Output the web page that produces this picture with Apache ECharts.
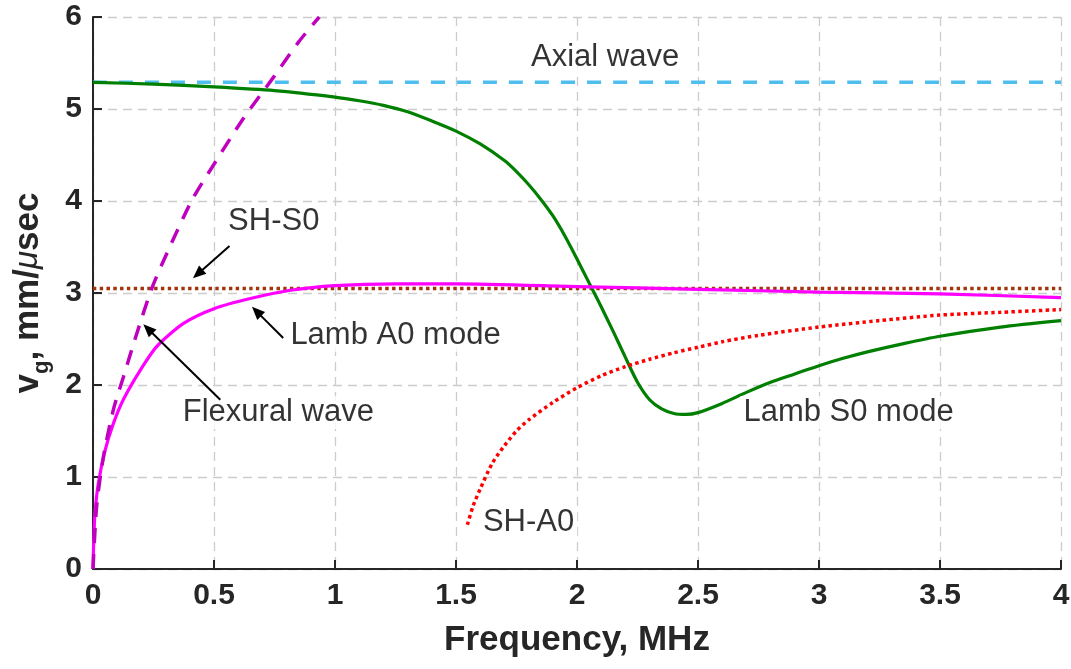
<!DOCTYPE html>
<html>
<head>
<meta charset="utf-8">
<script src="https://cdn.jsdelivr.net/npm/echarts@6/dist/echarts.min.js"></script>
<style>
html,body{margin:0;padding:0;background:#fff;}
#chart{width:1071px;height:669px;}
</style>
</head>
<body>
<div id="chart"></div>
<script>
// ---- data (frequency MHz, group velocity mm/µs) ----
const xTicks = [0, 0.5, 1, 1.5, 2, 2.5, 3, 3.5, 4];
const yTicks = [0, 1, 2, 3, 4, 5, 6];

const lambS0 = [[0,5.29],[0.25,5.27],[0.5,5.24],[0.75,5.20],[1.0,5.13],[1.1,5.09],[1.2,5.04],[1.3,4.97],[1.4,4.87],[1.5,4.76],[1.6,4.62],[1.7,4.44],[1.75,4.32],[1.8,4.18],[1.85,4.02],[1.9,3.84],[1.95,3.62],[2.0,3.37],[2.05,3.11],[2.1,2.85],[2.15,2.58],[2.2,2.30],[2.25,2.03],[2.3,1.84],[2.35,1.74],[2.4,1.69],[2.45,1.68],[2.5,1.70],[2.6,1.80],[2.7,1.92],[2.8,2.03],[2.9,2.12],[3.0,2.21],[3.1,2.29],[3.2,2.36],[3.35,2.45],[3.5,2.53],[3.75,2.63],[4.0,2.70]];

const lambA0 = [[0,0],[0.003,0.3],[0.008,0.6],[0.022,0.93],[0.05,1.29],[0.084,1.58],[0.125,1.84],[0.195,2.16],[0.264,2.42],[0.374,2.67],[0.5,2.83],[0.65,2.94],[0.816,3.03],[1.0,3.08],[1.25,3.10],[1.5,3.10],[2.0,3.07],[2.5,3.04],[3.0,3.01],[3.5,2.99],[4.0,2.95]];

const flexural = [[0,0],[0.015,0.68],[0.043,1.22],[0.084,1.73],[0.126,2.09],[0.181,2.56],[0.243,3.05],[0.305,3.43],[0.409,4.01],[0.5,4.40],[0.622,4.90],[0.75,5.36],[0.85,5.73],[0.935,6.0]];

const shA0 = [[1.547,0.48],[1.57,0.68],[1.6,0.87],[1.65,1.15],[1.7,1.34],[1.75,1.50],[1.8,1.62],[1.9,1.81],[2.0,1.97],[2.1,2.10],[2.2,2.20],[2.3,2.28],[2.4,2.35],[2.5,2.41],[2.6,2.47],[2.75,2.54],[3.0,2.63],[3.25,2.70],[3.5,2.76],[3.75,2.79],[4.0,2.82]];

const shS0 = [[0,3.05],[4,3.05]];
const axial = [[0,5.29],[4,5.29]];

// annotation texts [x, y, text]
const labels = [
  [2.116, 5.565, 'Axial wave'],
  [0.747, 3.78, 'SH-S0'],
  [1.25, 2.54, 'Lamb A0 mode'],
  [0.766, 1.70, 'Flexural wave'],
  [3.122, 1.70, 'Lamb S0 mode'],
  [1.80, 0.51, 'SH-A0']
];
// arrows [fromX, fromY, toX, toY]
const arrows = [
  [0.564, 3.51, 0.413, 3.16],
  [0.786, 2.51, 0.657, 2.85],
  [0.526, 1.84, 0.208, 2.66]
];

const FONT = '"Liberation Sans", Arial, Helvetica, sans-serif';
const AX = '#262626';

function lineSeries(name, data, color, width, type, z) {
  return {
    name, type: 'line', data, showSymbol: false, symbol: 'none',
    smooth: 0.25, silent: true, z: z,
    lineStyle: { color, width, type, cap: 'butt' }
  };
}

const chart = echarts.init(document.getElementById('chart'), null, { renderer: 'canvas' });
chart.setOption({
  animation: false,
  backgroundColor: '#fff',
  grid: { left: 93, right: 10, top: 17, bottom: 100, containLabel: false, outerBoundsMode: 'none' },
  xAxis: {
    type: 'value', min: 0, max: 4, interval: 0.5,
    name: 'Frequency, MHz', nameLocation: 'middle', nameGap: 54,
    nameTextStyle: { fontFamily: FONT, fontWeight: 'bold', fontSize: 35, color: AX },
    axisLine: { show: true, lineStyle: { color: AX, width: 2 } },
    axisTick: { show: true, inside: true, length: 9, lineStyle: { color: AX, width: 2 } },
    axisLabel: { fontFamily: FONT, fontWeight: 'bold', fontSize: 30, color: AX, margin: 12,
      formatter: v => xTicks.includes(v) ? String(v) : '' },
    splitLine: { show: true, lineStyle: { color: '#cccccc', width: 1.3, type: [9, 6] } }
  },
  yAxis: {
    type: 'value', min: 0, max: 6, interval: 1,
    name: '{m|v}{g|g}{m|, mm/}{mu|μ}{m|sec}', nameLocation: 'middle', nameGap: 40,
    nameTextStyle: {
      rich: {
        m: { fontFamily: FONT, fontWeight: 'bold', fontSize: 35, color: AX, verticalAlign: 'middle', lineHeight: 40 },
        g: { fontFamily: FONT, fontWeight: 'bold', fontSize: 22, color: AX, verticalAlign: 'bottom', lineHeight: 50 },
        mu: { fontFamily: FONT, fontStyle: 'italic', fontWeight: 'normal', fontSize: 33, color: AX, verticalAlign: 'middle', lineHeight: 40 }
      }
    },
    axisLine: { show: true, lineStyle: { color: AX, width: 2 } },
    axisTick: { show: true, inside: true, length: 9, lineStyle: { color: AX, width: 2 } },
    axisLabel: { fontFamily: FONT, fontWeight: 'bold', fontSize: 30, color: AX, margin: 11,
      formatter: v => yTicks.includes(v) ? String(v) : '' },
    splitLine: { show: true, lineStyle: { color: '#cccccc', width: 1.3, type: [9, 6] } }
  },
  series: [
    lineSeries('Axial wave', axial, '#4DBEEE', 3.5, [14, 12], 2),
    lineSeries('SH-S0', shS0, '#A2330A', 3.5, [3.4, 3.4], 2),
    lineSeries('Lamb S0', lambS0, '#007F00', 3.2, 'solid', 3),
    lineSeries('Lamb A0', lambA0, '#FF00FF', 3.2, 'solid', 3),
    lineSeries('SH-A0', shA0, '#FF0000', 3.5, [3.4, 3.4], 4),
    lineSeries('Flexural', flexural, '#BF00BF', 3.5, [15, 11], 4),
    {
      type: 'scatter', silent: true, z: 10, symbolSize: 1,
      itemStyle: { color: 'rgba(0,0,0,0)' },
      data: labels.map(l => ({ value: [l[0], l[1]], name: l[2] })),
      label: {
        show: true, position: 'inside', formatter: p => p.name,
        fontFamily: FONT, fontSize: 31, color: '#000',
        backgroundColor: '#fff', padding: [1, 3, 1, 3]
      }
    }
  ]
});

// arrows drawn as graphic elements anchored on data coordinates
const g = [];
arrows.forEach(a => {
  const p0 = chart.convertToPixel({ gridIndex: 0 }, [a[0], a[1]]);
  const p1 = chart.convertToPixel({ gridIndex: 0 }, [a[2], a[3]]);
  const dx = p1[0] - p0[0], dy = p1[1] - p0[1];
  const len = Math.hypot(dx, dy), ux = dx / len, uy = dy / len;
  const hl = 13, hw = 5.5;
  const bx = p1[0] - ux * hl, by = p1[1] - uy * hl;
  g.push({ type: 'line', z: 20, silent: true,
    shape: { x1: p0[0], y1: p0[1], x2: bx + ux * 2, y2: by + uy * 2 },
    style: { stroke: '#000', lineWidth: 2 } });
  g.push({ type: 'polygon', z: 20, silent: true,
    shape: { points: [[p1[0], p1[1]], [bx - uy * hw, by + ux * hw], [bx + uy * hw, by - ux * hw]] },
    style: { fill: '#000' } });
});
chart.setOption({ graphic: g });
</script>
</body>
</html>
